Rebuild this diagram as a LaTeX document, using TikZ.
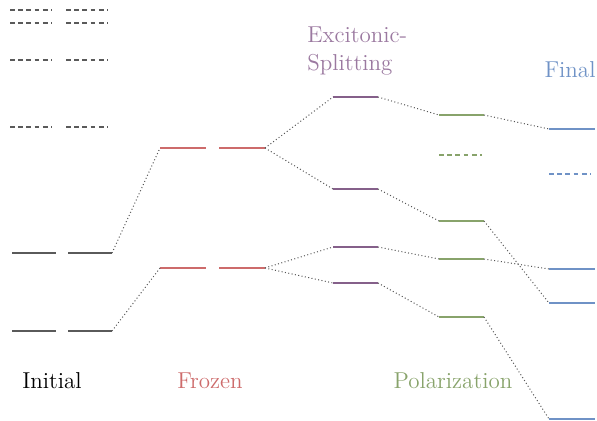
\documentclass[tikz,border=0pt]{standalone}
\usepackage{tikz}
\definecolor{cgray}{HTML}{5A5A5A}
\definecolor{cred}{HTML}{CD6B6B}
\definecolor{cpurple}{HTML}{85608A}
\definecolor{cpurplet}{HTML}{9B79A0}
\definecolor{cgreen}{HTML}{88A36B}
\definecolor{cblue}{HTML}{6F92C6}
\definecolor{cdot}{HTML}{555555}
\tikzset{
  lvl/.style={line width=0.9pt},
  dlvl/.style={line width=0.9pt, dash pattern=on 2.4pt off 1.7pt},
  conn/.style={cdot, line width=0.5pt, dash pattern=on 0.5pt off 1.2pt},
  lbl/.style={font=\fontsize{11.5}{13}\selectfont, inner sep=0pt}
}
\begin{document}
\begin{tikzpicture}[x=0.5pt,y=-0.5pt]
\useasboundingbox (0,0) rectangle (597,421);
% initial dashed
\foreach \yy in {10,23,60,127}{
  \draw[dlvl,cgray] (10,\yy) -- (52,\yy);
  \draw[dlvl,cgray] (66,\yy) -- (108,\yy);
}
% initial solid
\coordinate (ia) at (112,253); \coordinate (ib) at (112,331);
\draw[lvl,cgray] (12,253) -- (56,253); \draw[lvl,cgray] (68,253) -- (ia);
\draw[lvl,cgray] (12,331) -- (56,331); \draw[lvl,cgray] (68,331) -- (ib);
% frozen
\coordinate (fal) at (160,148); \coordinate (far) at (265,148);
\coordinate (fbl) at (160,268); \coordinate (fbr) at (265,268);
\draw[lvl,cred] (fal) -- (206,148); \draw[lvl,cred] (219,148) -- (far);
\draw[lvl,cred] (fbl) -- (206,268); \draw[lvl,cred] (219,268) -- (fbr);
% excitonic
\foreach \n/\yy in {ea/97,eb/189,ec/247,ed/283}{
  \coordinate (\n l) at (333,\yy); \coordinate (\n r) at (378,\yy);
  \draw[lvl,cpurple] (\n l) -- (\n r);
}
% polarization
\foreach \n/\yy in {pa/115,pb/221,pc/259,pd/317}{
  \coordinate (\n l) at (439,\yy); \coordinate (\n r) at (484,\yy);
  \draw[lvl,cgreen] (\n l) -- (\n r);
}
\draw[dlvl,cgreen] (439,155) -- (482,155);
% final
\foreach \n/\yy in {za/129,zb/269,zc/303,zd/419}{
  \coordinate (\n l) at (549,\yy); \coordinate (\n r) at (595,\yy);
  \draw[lvl,cblue] (\n l) -- (\n r);
}
\draw[dlvl,cblue] (549,174) -- (591,174);
% connectors
\draw[conn] (ia) -- (fal);
\draw[conn] (ib) -- (fbl);
\draw[conn] (far) -- (eal);
\draw[conn] (far) -- (ebl);
\draw[conn] (fbr) -- (ecl);
\draw[conn] (fbr) -- (edl);
\draw[conn] (ear) -- (pal);
\draw[conn] (ebr) -- (pbl);
\draw[conn] (ecr) -- (pcl);
\draw[conn] (edr) -- (pdl);
\draw[conn] (par) -- (zal);
\draw[conn] (pbr) -- (zcl);
\draw[conn] (pcr) -- (zbl);
\draw[conn] (pdr) -- (zdl);
% labels
\node[lbl,black] (tinit) at (52,381) {Initial};
\node[lbl,cred] (tfroz) at (210,381) {Frozen};
\node[lbl,cgreen] (tpol) at (453,381) {Polarization};
\node[lbl,cpurplet,anchor=north west,align=left,font=\fontsize{11.5}{14}\selectfont] (texc) at (307,26) {Excitonic-\\Splitting};
\node[lbl,cblue] (tfin) at (570,70) {Final};
\end{tikzpicture}
\end{document}
